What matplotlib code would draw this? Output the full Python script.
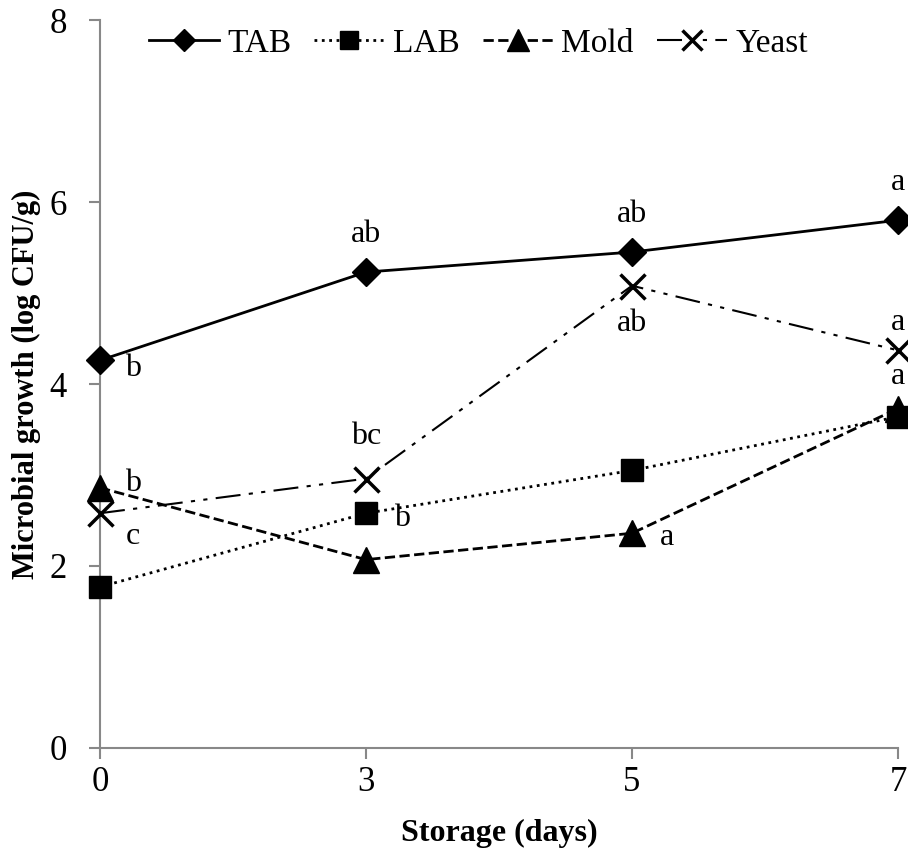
import matplotlib
matplotlib.use('Agg')
import matplotlib.pyplot as plt

plt.rcParams['font.family'] = ['Liberation Serif', 'DejaVu Serif']

days = ['0', '3', '5', '7']
tab = [4.26, 5.23, 5.45, 5.80]
lab = [1.77, 2.58, 3.05, 3.64]
mold = [2.86, 2.07, 2.36, 3.73]
yeast = [2.58, 2.96, 5.08, 4.37]

# significance letters
tab_sig = ['b', 'ab', 'ab', 'a']
lab_sig = ['', 'b', '', '']
mold_sig = ['b', '', 'a', 'a']
yeast_sig = ['c', 'bc', 'ab', 'a']

x = list(range(len(days)))

fig = plt.figure(figsize=(9.08, 8.51), dpi=100)
ax = fig.add_axes([100/908, 1 - 748/851, 798/908, 728/851])

ax.plot(x, tab, '-', color='black', lw=2, marker='D', ms=14, label='TAB', clip_on=False, zorder=5)
ax.plot(x, lab, ':', color='black', lw=2, marker='s', ms=16, label='LAB', clip_on=False, zorder=5)
ax.plot(x, mold, '--', color='black', lw=2, marker='^', ms=19, label='Mold', clip_on=False, zorder=5)
ax.plot(x, yeast, color='black', lw=1.5, dashes=[12, 4, 2, 4, 2, 4], marker='x', ms=18, mew=2.5,
        label='Yeast', clip_on=False, zorder=5)

fs = 23
def annotate(vals, sigs, offs):
    for i, (v, s) in enumerate(zip(vals, sigs)):
        if s:
            ax.annotate(s, (x[i], v), xytext=offs[i], textcoords='offset points',
                        ha='center', va='center', fontsize=fs)

annotate(tab, tab_sig, [(24, -6), (0, 27), (0, 27), (0, 27)])
annotate(yeast, yeast_sig, [(24, -17), (0, 30), (0, -27), (0, 20)])
annotate(mold, mold_sig, [(24, 3), (0, 0), (25, -3), (0, 23)])
annotate(lab, lab_sig, [(0, 0), (26, -4), (0, 0), (0, 0)])

ax.set_xlim(0, 3)
ax.set_ylim(0, 8)
ax.set_xticks(x)
ax.set_xticklabels(days)
ax.set_yticks([0, 2, 4, 6, 8])

for side in ['top', 'right']:
    ax.spines[side].set_visible(False)
for side in ['left', 'bottom']:
    ax.spines[side].set_color('#888888')
    ax.spines[side].set_linewidth(1.5)
ax.tick_params(axis='both', direction='out', color='#888888', width=1.5, length=8, labelsize=25)
ax.tick_params(axis='x', pad=5)
ax.tick_params(axis='y', pad=16)

ax.set_xlabel('Storage (days)', fontsize=23, fontweight='bold', labelpad=14)
ax.set_ylabel('Microbial growth (log CFU/g)', fontsize=22, fontweight='bold', labelpad=6)

ax.legend(loc='upper center', bbox_to_anchor=(0.474, 1.03), ncol=4, frameon=False, fontsize=24,
          handlelength=2.1, handletextpad=0.25, columnspacing=0.7, markerscale=0.8)

fig.savefig('out.png', dpi=100)
